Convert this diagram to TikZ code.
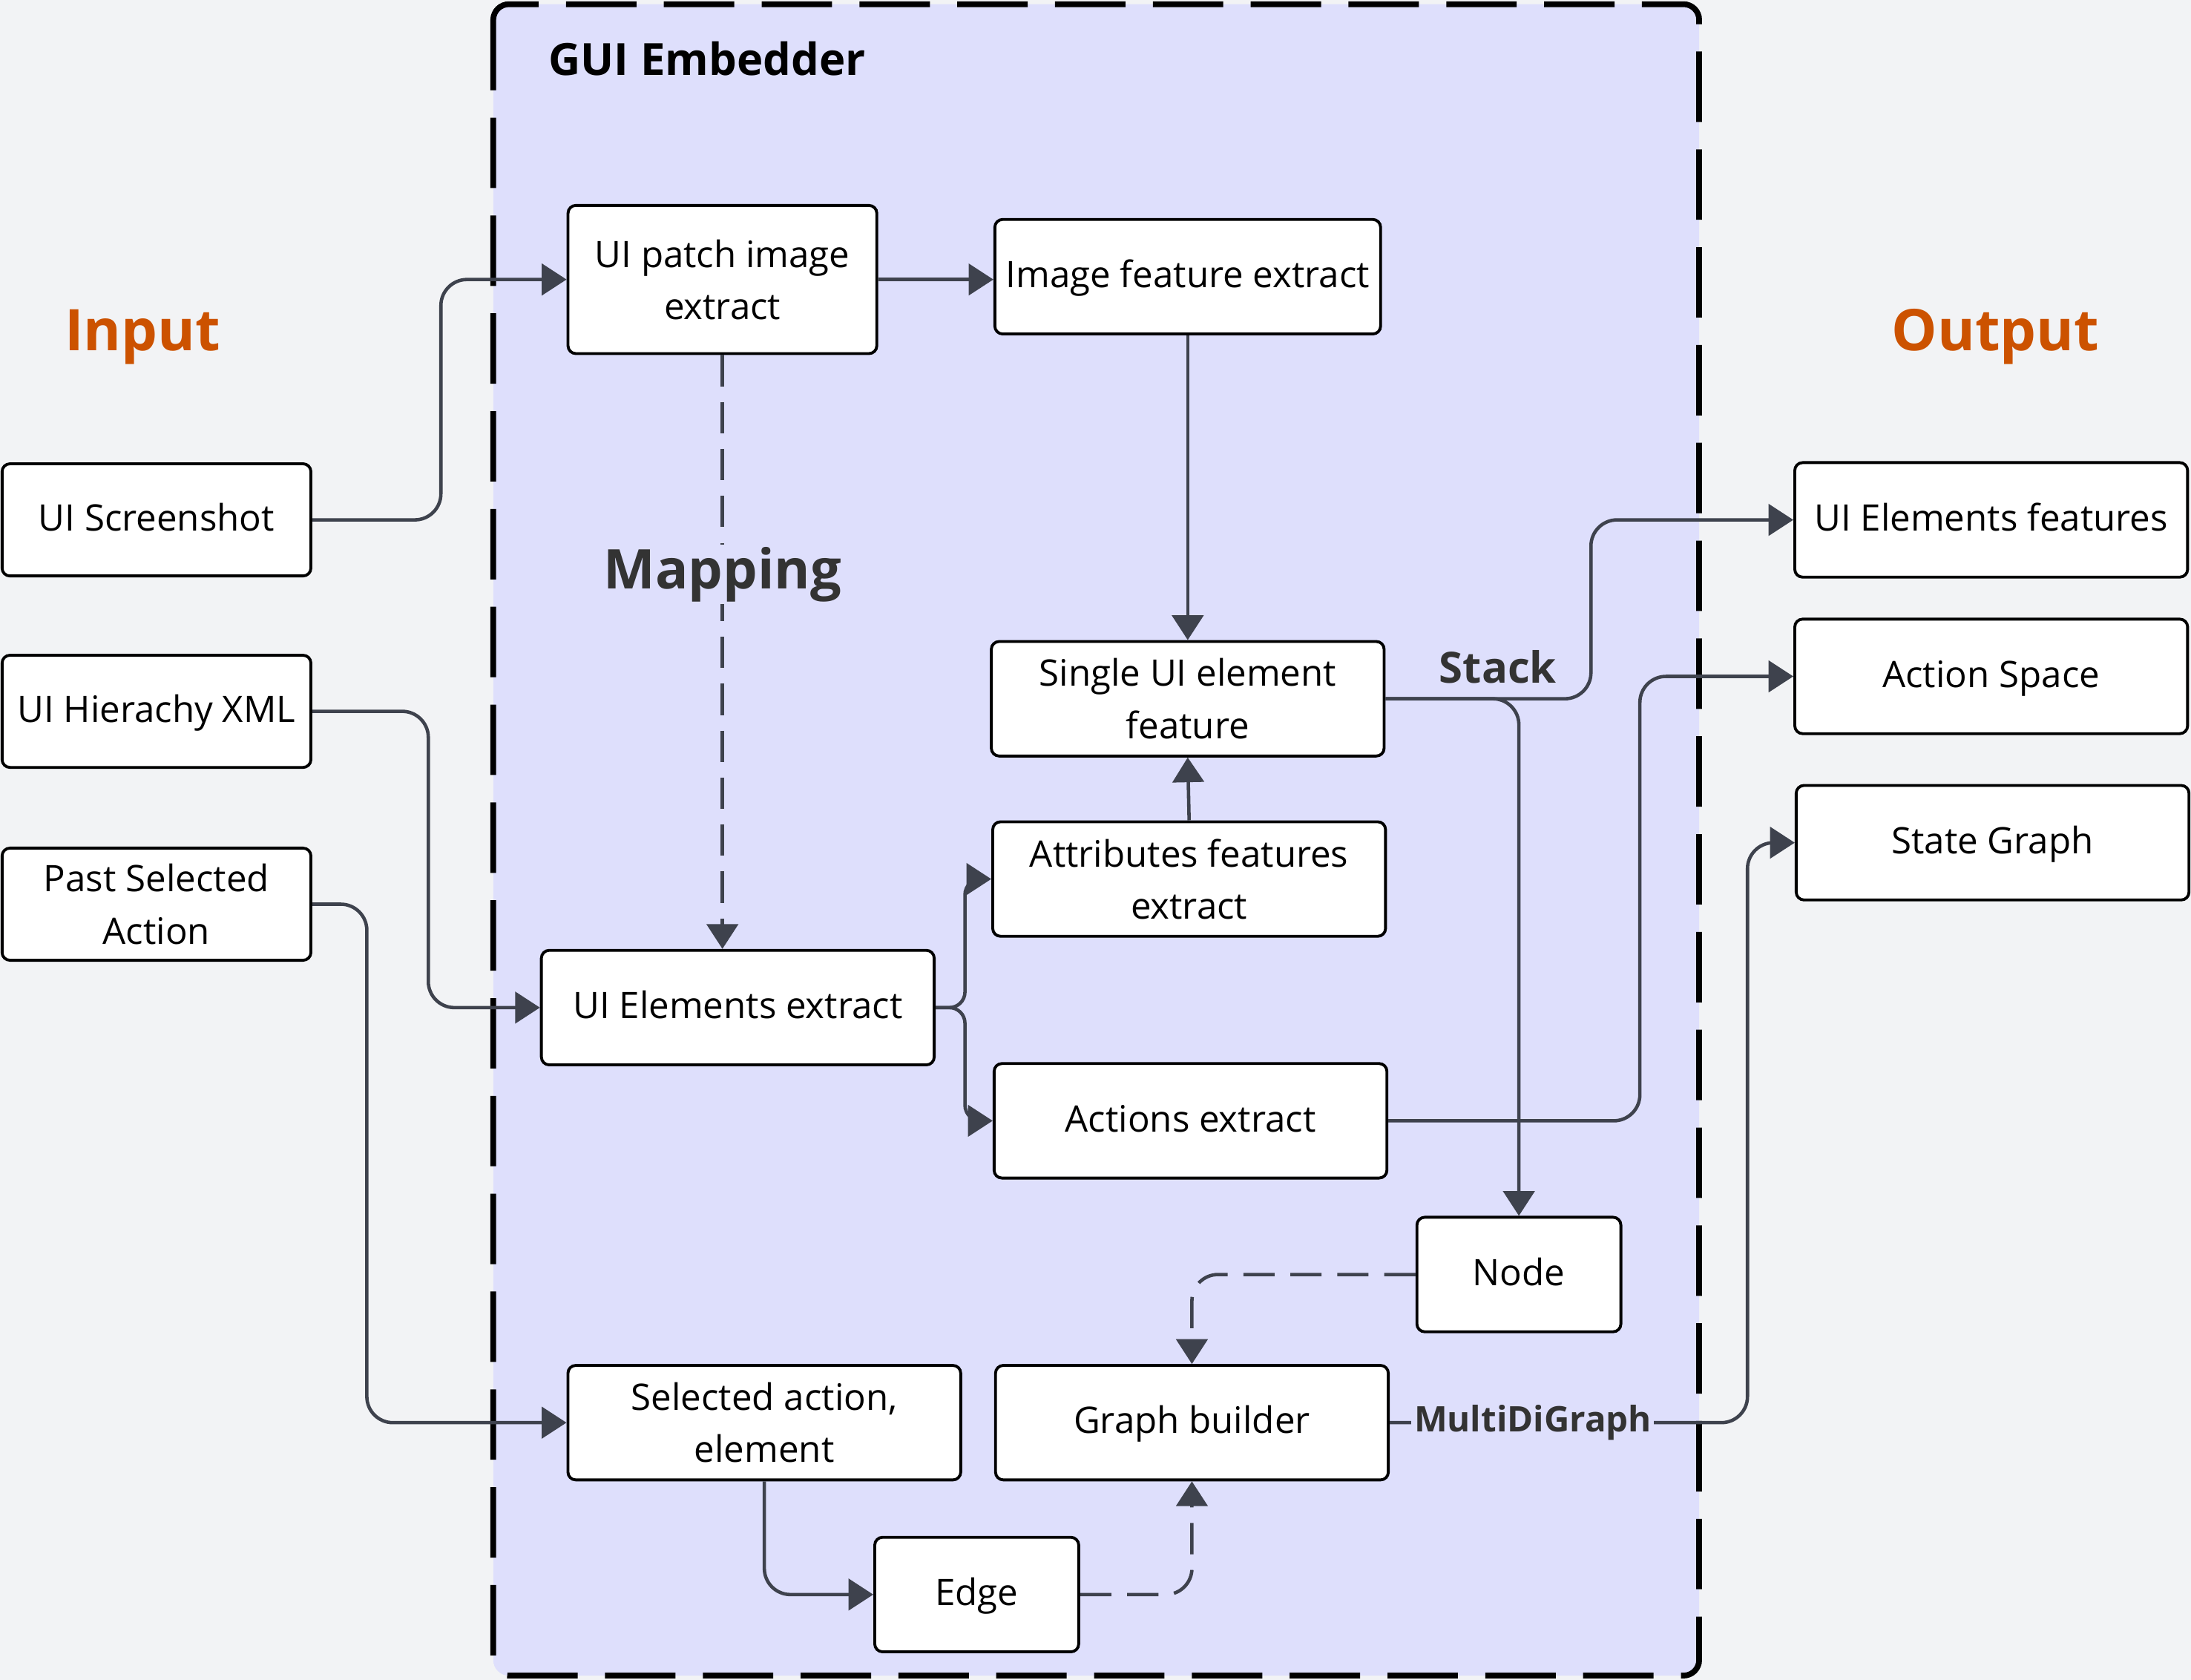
\documentclass[tikz,border=0pt]{standalone}
\usepackage{fontspec}
\setmainfont{Open Sans}
\usetikzlibrary{arrows.meta,calc}
\definecolor{canvas}{HTML}{F2F3F5}
\definecolor{panel}{HTML}{DEDFFC}
\definecolor{wire}{HTML}{3E424D}
\definecolor{heading}{HTML}{CC5200}
\definecolor{ink}{HTML}{333333}
\begin{document}
\begin{tikzpicture}[x=0.01883cm,y=-0.01883cm,
    box/.style={draw=black,line width=1.1pt,fill=white,rounded corners=3pt,
        align=center,inner sep=0pt,minimum width=150.6pt,minimum height=43.9pt,
        font=\fontsize{14}{20}\selectfont},
    solo/.style={text height=0.84em,text depth=0pt},
    iobox/.style={box,minimum width=118.4pt,minimum height=43pt},
    smallbox/.style={box,solo,minimum width=78.2pt},
    link/.style={draw=wire,line width=1.3pt,rounded corners=10pt,
        -{Triangle[length=9.5pt,width=12pt]}},
    dashlink/.style={link,dash pattern=on 12pt off 6pt},
    tag/.style={text=ink,font=\bfseries\fontsize{16.5}{20}\selectfont,inner sep=1pt}]

    % canvas and embedder frame
    \useasboundingbox (0,0) rectangle (1568,1202);
    \fill[canvas] (0,0) rectangle (1568,1202);
    \draw[line width=2.2pt,dash pattern=on 27pt off 10.5pt,rounded corners=6pt,fill=panel]
        (353,3) rectangle (1216,1199);
    \node[anchor=west,font=\bfseries\fontsize{17}{20}\selectfont] (title) at (386,42) {GUI Embedder};

    \node[text=heading,font=\bfseries\fontsize{22}{26}\selectfont] (inlabel)  at (102,241)  {Input};
    \node[text=heading,font=\bfseries\fontsize{22}{26}\selectfont] (outlabel) at (1428,241) {Output};

    % inputs
    \node[iobox,solo]       (shot) at (112,372)  {UI Screenshot};
    \node[iobox,solo]       (xml)  at (112,509)  {UI Hierachy XML};
    \node[iobox]            (past) at (112,647)  {Past Selected\\Action};

    % embedder
    \node[iobox,minimum height=56.8pt,text depth=0pt] (patch) at (517,200) {UI patch image\\extract};
    \node[box,solo,minimum width=147.9pt] (imgfeat) at (850,198) {Image feature extract};
    \node[box]              (single)  at (850,500)  {Single UI element\\feature};
    \node[box]              (attr)    at (851,629)  {Attributes features\\extract};
    \node[box,solo]         (uielem)  at (528,721)  {UI Elements extract};
    \node[box,solo]         (actions) at (852,802)  {Actions extract};
    \node[smallbox]         (vertex)  at (1087,912) {Node};
    \node[box]              (selact)  at (547,1018) {Selected action,\\element};
    \node[box,solo]         (builder) at (853,1018) {Graph builder};
    \node[smallbox]         (edge)    at (699,1141) {Edge};

    % outputs
    \node[box,solo]         (uifeat)   at (1425,372) {UI Elements features};
    \node[box,solo]         (actspace) at (1425,484) {Action Space};
    \node[box,solo]         (state)    at (1426,603) {State Graph};

    \draw[link] (shot.east) -- ++(92,0) |- (patch.west);
    \draw[link] (patch.east) -- (patch.east -| imgfeat.west);
    \draw[link] (imgfeat.south) -- (single.north);
    \draw[dashlink] (patch.south) -- (patch.south |- uielem.north);
    \draw[link] (xml.east) -- ++(83,0) |- (uielem.west);
    \draw[link] (past.east) -- ++(39,0) |- (selact.west);
    \draw[link,rounded corners=6pt] (uielem.east) -- ++(21,0) |- (attr.west);
    \draw[link,rounded corners=6pt] (uielem.east) -- ++(21,0) |- (actions.west);
    \draw[link] (attr.north) -- (single.south);
    \draw[link] (single.east) -- ++(147,0) |- (uifeat.west);
    \draw[link] (single.east) -| (vertex.north);
    \draw[link] (actions.east) -- ++(180,0) |- (actspace.west);
    \draw[dashlink] (vertex.west) -| (builder.north);
    \draw[link] (selact.south) |- (edge.west);
    \draw[dashlink] (edge.east) -| (builder.south);
    \draw[link] (builder.east) -- ++(256,0) |- (state.west);

    % labels on the wires
    \node[tag,fill=panel,font=\bfseries\fontsize{21}{24}\selectfont] (mapping) at (517,411) {Mapping};
    \node[tag] (stack) at (1072,477) {Stack};
    \node[tag,fill=panel,font=\bfseries\fontsize{13.5}{16}\selectfont] (multi) at (1097,1018) {MultiDiGraph};

\end{tikzpicture}
\end{document}
